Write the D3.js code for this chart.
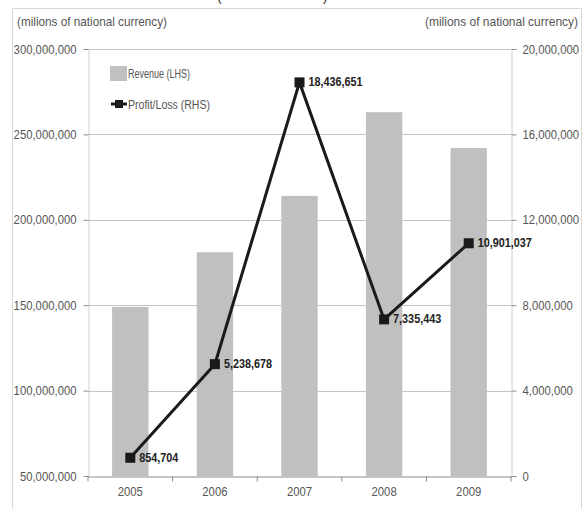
<!DOCTYPE html>
<html>
<head>
<meta charset="utf-8">
<script src="https://cdn.jsdelivr.net/npm/d3@7"></script>
<style>
  html, body { margin: 0; padding: 0; background: #fff; }
  svg { display: block; }
  text { font-family: "Liberation Sans", Arial, sans-serif; }
</style>
</head>
<body>
<svg id="chart" width="586" height="509"></svg>
<script>
// Revenue (bars, left axis) and Profit/Loss (line, right axis), 2005-2009
const years = ["2005", "2006", "2007", "2008", "2009"];
const revenue = [149000000, 181000000, 214000000, 263000000, 242000000];
const profit = [854704, 5238678, 18436651, 7335443, 10901037];
const leftTicks = [50000000, 100000000, 150000000, 200000000, 250000000, 300000000];
const rightTicks = [0, 4000000, 8000000, 12000000, 16000000, 20000000];
const unitLabel = "(milions of national  currency)";
const seriesNames = ["Revenue (LHS)", "Profit/Loss (RHS)"];

const svg = d3.select("#chart");
const fmt = d3.format(",");

const plot = { left: 88, right: 511, top: 49, bottom: 476 };
const axisColor = "#8c8c8c";
const textColor = "#555";

// narrow the glyphs horizontally to get a condensed label face
function condense(sel, factor) {
  sel.each(function () {
    const w = this.getComputedTextLength();
    this.setAttribute("textLength", (w * factor).toFixed(1));
    this.setAttribute("lengthAdjust", "spacingAndGlyphs");
  });
}
function fitWidth(sel, width) {
  sel.attr("textLength", width).attr("lengthAdjust", "spacingAndGlyphs");
}

// outer frame of the chart
svg.append("path")
  .attr("d", `M12.5,509 V8.5 H581.5 V509`)
  .attr("fill", "none").attr("stroke", "#d9d9d9").attr("stroke-width", 1);

// heading above the frame (only its lower edge falls inside the canvas)
svg.append("text").attr("x", 217).attr("y", 1).attr("font-size", 14).attr("fill", "#333").text("(");
svg.append("text").attr("x", 323).attr("y", 1).attr("font-size", 14).attr("fill", "#333").text(")");

const x = d3.scaleBand().domain(years).range([plot.left, plot.right]).paddingInner(0.57).paddingOuter(0.285);
const xBand = d3.scaleBand().domain(years).range([plot.left, plot.right]);
const yL = d3.scaleLinear().domain([50000000, 300000000]).range([plot.bottom, plot.top]);
const yR = d3.scaleLinear().domain([0, 20000000]).range([plot.bottom, plot.top]);

// horizontal gridlines
svg.append("g").selectAll("line").data(leftTicks.slice(1)).join("line")
  .attr("x1", plot.left).attr("x2", plot.right)
  .attr("y1", d => Math.round(yL(d)) + 0.5).attr("y2", d => Math.round(yL(d)) + 0.5)
  .attr("stroke", "#c4c4c4").attr("stroke-width", 1);

// revenue bars
svg.append("g").selectAll("rect").data(years).join("rect")
  .attr("x", d => x(d))
  .attr("width", x.bandwidth())
  .attr("y", (d, i) => yL(revenue[i]))
  .attr("height", (d, i) => yL(50000000) - yL(revenue[i]))
  .attr("fill", "#c0c0c0");

// left axis
const gL = svg.append("g").attr("transform", `translate(${plot.left + 0.5},0)`)
  .call(d3.axisLeft(yL).tickValues(leftTicks).tickFormat(fmt).tickSize(5).tickPadding(7));
// right axis
const gR = svg.append("g").attr("transform", `translate(${plot.right + 0.5},0)`)
  .call(d3.axisRight(yR).tickValues(rightTicks).tickFormat(fmt).tickSize(5).tickPadding(6));
// bottom axis with ticks at the category boundaries
const gB = svg.append("g").attr("transform", `translate(0,${plot.bottom + 0.5})`)
  .call(d3.axisBottom(x).tickSize(0).tickPadding(10));
gB.append("g").selectAll("line").data(d3.range(years.length + 1)).join("line")
  .attr("x1", i => plot.left + i * xBand.bandwidth())
  .attr("x2", i => plot.left + i * xBand.bandwidth())
  .attr("y1", 0).attr("y2", 5).attr("stroke", axisColor);

[gL, gR, gB].forEach(g => {
  g.select(".domain").attr("stroke", axisColor);
  g.selectAll(".tick line").attr("stroke", axisColor);
  g.selectAll("text").attr("fill", textColor).attr("font-size", 13);
  condense(g.selectAll("text"), 0.87);
});
gL.select(".domain").attr("stroke", "#d0d0d0");
gR.select(".domain").attr("stroke", "#d0d0d0");

// unit labels
fitWidth(svg.append("text").attr("x", 17).attr("y", 26).attr("font-size", 13)
  .attr("fill", textColor).text(unitLabel), 150);
fitWidth(svg.append("text").attr("x", 578).attr("y", 26).attr("text-anchor", "end").attr("font-size", 13)
  .attr("fill", textColor).text(unitLabel), 153);

// profit/loss line
const cx = d => x(d) + x.bandwidth() / 2;
const line = d3.line().x((d, i) => cx(years[i])).y(d => yR(d));
svg.append("path").datum(profit).attr("d", line)
  .attr("fill", "none").attr("stroke", "#1a1a1a").attr("stroke-width", 3);
svg.append("g").selectAll("rect").data(profit).join("rect")
  .attr("x", (d, i) => cx(years[i]) - 5).attr("y", d => yR(d) - 5)
  .attr("width", 10).attr("height", 10).attr("fill", "#1a1a1a");
const valueLabels = svg.append("g").selectAll("text").data(profit).join("text")
  .attr("x", (d, i) => cx(years[i]) + 9).attr("y", d => yR(d) + 4)
  .attr("font-size", 12).attr("font-weight", "bold").attr("fill", "#222")
  .text(d => fmt(d));
condense(valueLabels, 0.9);

// legend
const lg = svg.append("g");
lg.append("rect").attr("x", 110).attr("y", 66).attr("width", 17).attr("height", 15).attr("fill", "#c0c0c0");
fitWidth(lg.append("text").attr("x", 128).attr("y", 78).attr("font-size", 12)
  .attr("fill", textColor).text(seriesNames[0]), 62);
lg.append("line").attr("x1", 111).attr("x2", 127).attr("y1", 104).attr("y2", 104).attr("stroke", "#1a1a1a").attr("stroke-width", 3);
lg.append("rect").attr("x", 115).attr("y", 100).attr("width", 8).attr("height", 8).attr("fill", "#1a1a1a");
fitWidth(lg.append("text").attr("x", 128).attr("y", 109).attr("font-size", 12)
  .attr("fill", textColor).text(seriesNames[1]), 82);
</script>
</body>
</html>
